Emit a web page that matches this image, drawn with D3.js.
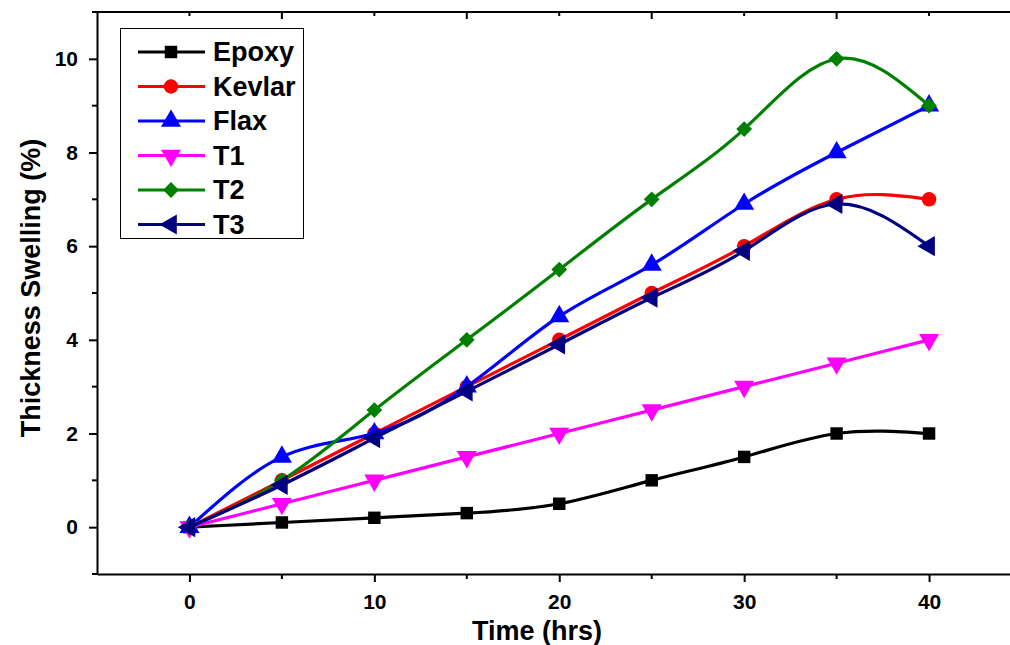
<!DOCTYPE html>
<html>
<head>
<meta charset="utf-8">
<script src="https://cdn.jsdelivr.net/npm/d3@7"></script>
<style>
  body { margin: 0; background: #fff; }
  svg { display: block; font-family: "Liberation Sans", Arial, sans-serif; font-weight: bold; }
  .axis path, .axis line { stroke: #000; stroke-width: 2; }
</style>
</head>
<body>
<div id="chart"></div>
<script>
// data
var hours = [0, 5, 10, 15, 20, 25, 30, 35, 40];
var epoxy  = [0, 0.1, 0.2, 0.3, 0.5, 1.0, 1.5, 2.0, 2.0];
var kevlar = [0, 1.0, 2.0, 3.0, 4.0, 5.0, 6.0, 7.0, 7.0];
var flax   = [0, 1.5, 2.0, 3.0, 4.5, 5.6, 6.9, 8.0, 9.0];
var t1     = [0, 0.5, 1.0, 1.5, 2.0, 2.5, 3.0, 3.5, 4.0];
var t2     = [0, 1.0, 2.5, 4.0, 5.5, 7.0, 8.5, 10.0, 9.0];
var t3     = [0, 0.9, 1.9, 2.9, 3.9, 4.9, 5.9, 6.9, 6.0];
var seriesNames = ["Epoxy", "Kevlar", "Flax", "T1", "T2", "T3"];
var xMajorTicks = [0, 10, 20, 30, 40];
var xMinorTicks = [5, 15, 25, 35];
var yMajorTicks = [0, 2, 4, 6, 8, 10];
var yMinorTicks = [-1, 1, 3, 5, 7, 9, 11];

var width = 1010, height = 645;

var series = [
  { name: seriesNames[0], values: epoxy,  color: "#000000", symbol: d3.symbolSquare,   size: 155, rot: 0 },
  { name: seriesNames[1], values: kevlar, color: "#ff0000", symbol: d3.symbolCircle,   size: 165, rot: 0 },
  { name: seriesNames[2], values: flax,   color: "#0000ff", symbol: d3.symbolTriangle, size: 175, rot: 0 },
  { name: seriesNames[3], values: t1,     color: "#ff00ff", symbol: d3.symbolTriangle, size: 175, rot: 180 },
  { name: seriesNames[4], values: t2,     color: "#008000", symbol: d3.symbolSquare,   size: 125, rot: 45 },
  { name: seriesNames[5], values: t3,     color: "#000080", symbol: d3.symbolTriangle, size: 175, rot: -90 }
];

var svg = d3.select("#chart")
  .append("svg")
  .attr("width", width)
  .attr("height", height);

var xScale = d3.scaleLinear().domain([-5, 45]).range([97, 1021.5]);
var yScale = d3.scaleLinear().domain([-1, 11]).range([574, 12]);

// bottom axis
var xAxis = svg.append("g").attr("class", "axis")
  .attr("transform", "translate(0," + yScale(-1) + ")")
  .call(d3.axisBottom(xScale).tickValues(xMajorTicks).tickSize(8).tickSizeOuter(0).tickPadding(12));
xAxis.selectAll(".minor").data(xMinorTicks).enter().append("line")
  .attr("x1", function(d) { return xScale(d); })
  .attr("x2", function(d) { return xScale(d); })
  .attr("y1", 0).attr("y2", 5)
  .attr("stroke", "#000").attr("stroke-width", 2);

// top axis (ticks inward)
var topAxis = svg.append("g").attr("class", "axis")
  .attr("transform", "translate(0," + yScale(11) + ")");
topAxis.append("line")
  .attr("x1", xScale(-5) - 4).attr("x2", width)
  .attr("y1", 0).attr("y2", 0);
topAxis.selectAll(".tt").data(xMajorTicks.concat(xMinorTicks)).enter().append("line")
  .attr("x1", function(d) { return xScale(d); })
  .attr("x2", function(d) { return xScale(d); })
  .attr("y1", 0)
  .attr("y2", function(d) { return d % 10 === 0 ? 4 : 7; });

// left axis
var yAxis = svg.append("g").attr("class", "axis")
  .attr("transform", "translate(" + xScale(-5) + ",0)")
  .call(d3.axisLeft(yScale).tickValues(yMajorTicks).tickSize(8).tickSizeOuter(0).tickPadding(11));
yAxis.selectAll(".minor").data(yMinorTicks).enter().append("line")
  .attr("x1", 0).attr("x2", -5)
  .attr("y1", function(d) { return yScale(d); })
  .attr("y2", function(d) { return yScale(d); })
  .attr("stroke", "#000").attr("stroke-width", 2);

svg.selectAll(".axis text")
  .attr("font-family", "Liberation Sans, Arial, sans-serif")
  .attr("font-weight", "bold")
  .attr("font-size", 21)
  .attr("fill", "#000");

// axis titles
svg.append("text")
  .attr("x", 537).attr("y", 640)
  .attr("text-anchor", "middle")
  .attr("font-size", 27)
  .text("Time (hrs)");

svg.append("text")
  .attr("transform", "translate(40," + 288 + ")rotate(-90)")
  .attr("text-anchor", "middle")
  .attr("font-size", 27)
  .text("Thickness Swelling (%)");

// lines
var line = d3.line()
  .x(function(d, i) { return xScale(hours[i]); })
  .y(function(d) { return yScale(d); })
  .curve(d3.curveNatural);

var plot = svg.append("g");
series.forEach(function(s) {
  plot.append("path")
    .attr("d", line(s.values))
    .attr("fill", "none")
    .attr("stroke", s.color)
    .attr("stroke-width", 3.2);
  plot.selectAll(null).data(s.values).enter().append("path")
    .attr("d", d3.symbol().type(s.symbol).size(s.size))
    .attr("transform", function(d, i) {
      return "translate(" + xScale(hours[i]) + "," + yScale(d) + ")rotate(" + s.rot + ")";
    })
    .attr("fill", s.color);
});

// legend
var legend = svg.append("g");
legend.append("rect")
  .attr("x", 120.5).attr("y", 28.5)
  .attr("width", 183).attr("height", 210)
  .attr("fill", "#fff")
  .attr("stroke", "#000").attr("stroke-width", 1);
series.forEach(function(s, i) {
  var y = 52 + i * 34.5;
  legend.append("line")
    .attr("x1", 138).attr("x2", 205)
    .attr("y1", y).attr("y2", y)
    .attr("stroke", s.color).attr("stroke-width", 3.2);
  legend.append("path")
    .attr("d", d3.symbol().type(s.symbol).size(s.size)())
    .attr("transform", "translate(171," + y + ")rotate(" + s.rot + ")")
    .attr("fill", s.color);
  legend.append("text")
    .attr("x", 213).attr("y", y + 9)
    .attr("font-size", 27)
    .text(s.name);
});
</script>
</body>
</html>
